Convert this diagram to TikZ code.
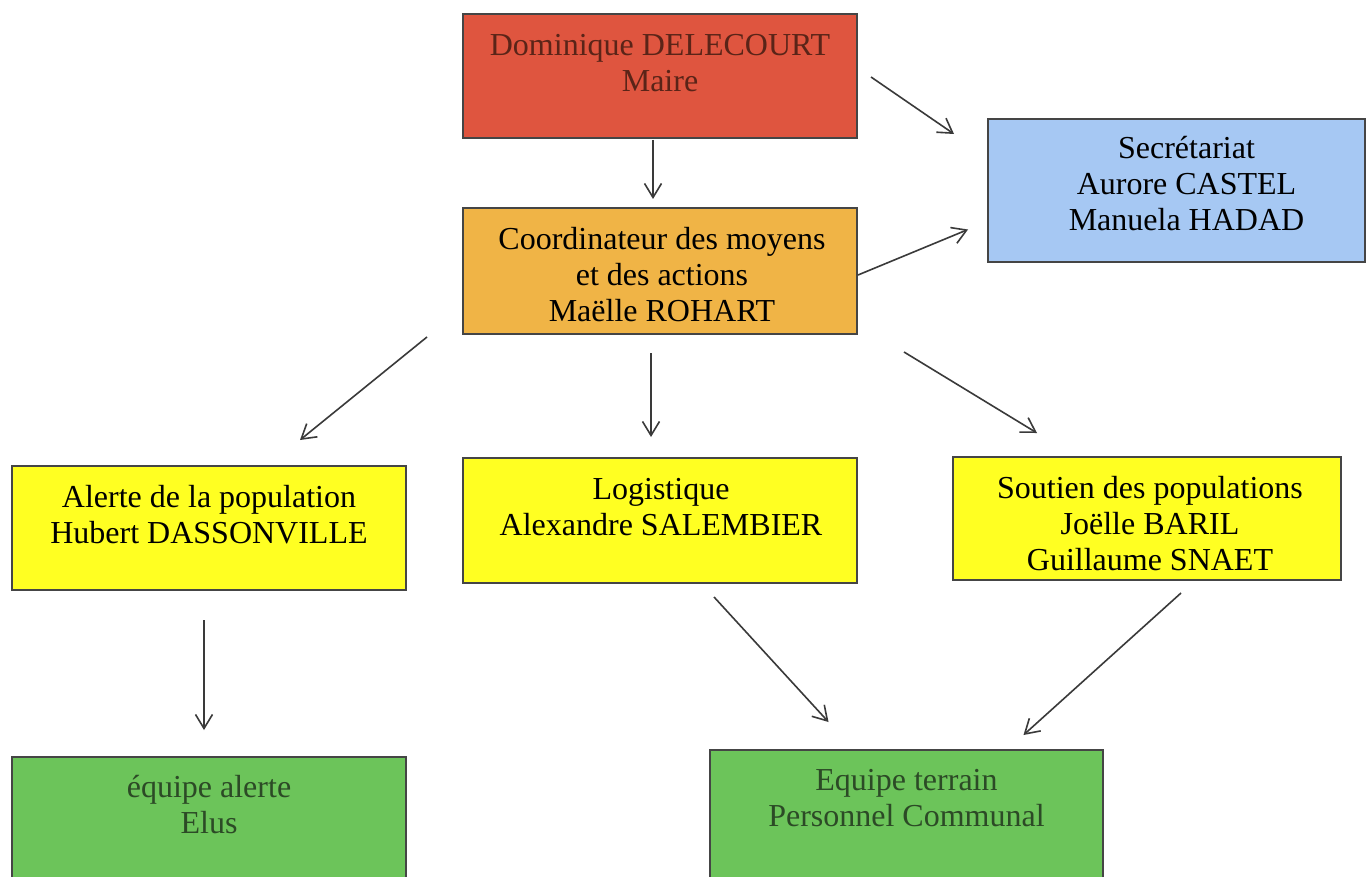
\documentclass[tikz,border=0pt]{standalone}
\usepackage{fontspec}
\setmainfont{Liberation Serif}
\usetikzlibrary{arrows.meta,calc}
\definecolor{redf}{HTML}{DF553F}
\definecolor{orangef}{HTML}{F0B446}
\definecolor{bluef}{HTML}{A6C8F3}
\definecolor{yellowf}{HTML}{FFFF22}
\definecolor{greenf}{HTML}{6CC45A}
\definecolor{boxline}{HTML}{454545}
\definecolor{arrowc}{HTML}{3A3A3A}
\definecolor{redtxt}{HTML}{5A2418}
\definecolor{greentxt}{HTML}{2C4A26}
\begin{document}
\begin{tikzpicture}[x=0.5pt,y=-0.5pt,
  box/.style={draw=boxline, line width=1pt, inner sep=0pt, outer sep=0pt},
  txt/.style={anchor=north, align=center, inner sep=0pt, font=\fontsize{16}{18}\selectfont},
  arr/.style={draw=arrowc, line width=0.8pt, -{Straight Barb[length=7pt,width=8.5pt]}}]
\useasboundingbox (0,0) rectangle (1369,877);
\fill[white] (0,0) rectangle (1369,877);
\clip (0,0) rectangle (1369,877);
% boxes
\node[box, fill=redf, minimum width=197pt, minimum height=62pt] (red) at (660,76) {};
\node[box, fill=orangef, minimum width=197pt, minimum height=63pt] (orange) at (660,271) {};
\node[box, fill=bluef, minimum width=188.5pt, minimum height=71.5pt] (blue) at (1176.5,190.5) {};
\node[box, fill=yellowf, minimum width=197pt, minimum height=62pt] (yl) at (209,528) {};
\node[box, fill=yellowf, minimum width=197pt, minimum height=62.5pt] (ym) at (660,520.5) {};
\node[box, fill=yellowf, minimum width=194pt, minimum height=61.5pt] (yr) at (1147,518.5) {};
\node[box, fill=greenf, minimum width=197pt, minimum height=71.5pt] (gl) at (209,828.5) {};
\node[box, fill=greenf, minimum width=196.5pt, minimum height=75pt] (gr) at (906.5,825) {};
% texts
\node[txt, text=redtxt] (redt) at ($(red.north)+(0,16)$) {\strut Dominique DELECOURT\\Maire};
\node[txt] (oranget) at ($(orange.north)+(2,16)$) {\strut Coordinateur des moyens\\et des actions\\Maëlle ROHART};
\node[txt] (bluet) at ($(blue.north)+(10,14)$) {\strut Secrétariat\\Aurore CASTEL\\Manuela HADAD};
\node[txt] (ylt) at ($(yl.north)+(0,16)$) {\strut Alerte de la population\\Hubert DASSONVILLE};
\node[txt] (ymt) at ($(ym.north)+(1,16)$) {\strut Logistique\\Alexandre SALEMBIER};
\node[txt] (yrt) at ($(yr.north)+(3,16)$) {\strut Soutien des populations\\Joëlle BARIL\\Guillaume SNAET};
\node[txt, text=greentxt] (glt) at ($(gl.north)+(0,15)$) {\strut équipe alerte\\Elus};
\node[txt, text=greentxt] (grt) at ($(gr.north)+(0,15)$) {\strut Equipe terrain\\Personnel Communal};
% arrows
\draw[arr] ($(red.south)+(-7,2)$) -- ($(orange.north)+(-7,-9)$);
\draw[arr] ($(red.east)+(14,1)$) -- ($(blue.north west)+(-34,15)$);
\draw[arr] ($(orange.east)+(1,4)$) -- ($(blue.west)+(-20,39)$);
\draw[arr] ($(orange.south west)+(-36,3)$) -- ($(yl.north)+(91,-26)$);
\draw[arr] ($(orange.south)+(-9,19)$) -- ($(ym.north)+(-9,-21)$);
\draw[arr] ($(orange.south east)+(47,18)$) -- ($(yr.north)+(-110,-24)$);
\draw[arr] ($(yl.south)+(-5,30)$) -- ($(gl.north)+(-5,-27)$);
\draw[arr] ($(ym.south)+(54,14)$) -- ($(gr.north)+(-78,-28)$);
\draw[arr] ($(yr.south)+(34,13)$) -- ($(gr.north)+(117,-15)$);
\end{tikzpicture}
\end{document}
